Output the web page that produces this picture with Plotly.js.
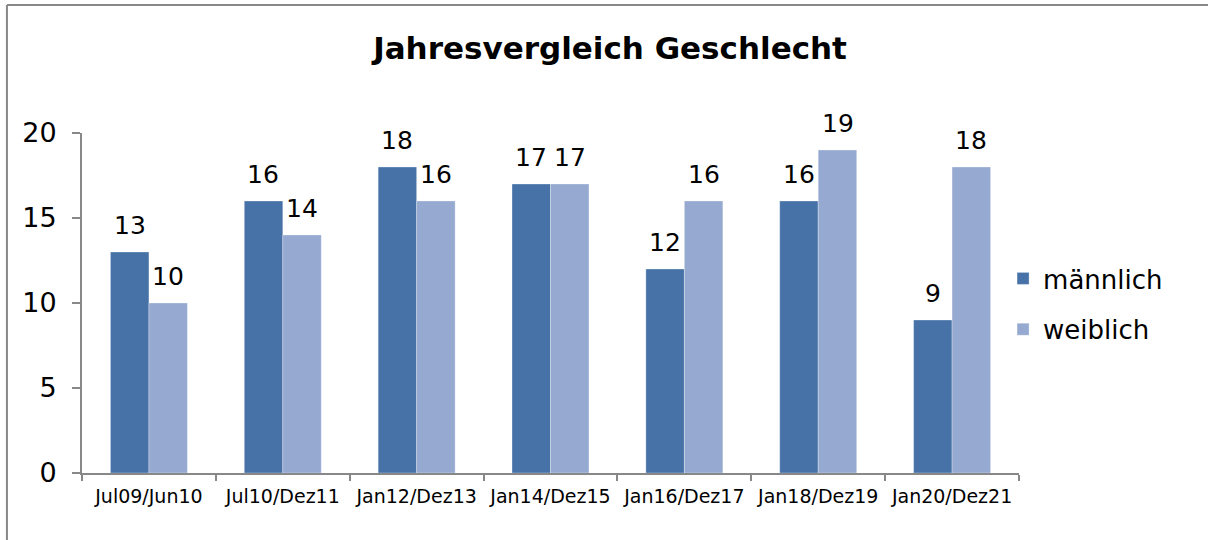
<!DOCTYPE html>
<html>
<head>
<meta charset="utf-8">
<script src="https://cdn.plot.ly/plotly-3.0.1.min.js"></script>
<style>html,body{margin:0;padding:0;background:#fff;}#chart{width:1208px;height:540px;}</style>
</head>
<body>
<div id="chart"></div>
<script>
const categories = ["Jul09/Jun10","Jul10/Dez11","Jan12/Dez13","Jan14/Dez15","Jan16/Dez17","Jan18/Dez19","Jan20/Dez21"];
const maennlich = [13,16,18,17,12,16,9];
const weiblich = [10,14,16,17,16,19,18];
const seriesNames = ["männlich","weiblich"];
const yTicks = [0,5,10,15,20];

const FONT = "DejaVu Sans, Verdana, sans-serif";
const colors = ["#4672A8","#95A9D1"];

const traces = [maennlich, weiblich].map((vals, i) => ({
  type: "bar",
  name: seriesNames[i],
  x: categories,
  y: vals,
  marker: {color: colors[i], line: {width: 0.5, color: "rgba(255,255,255,0.6)"}},
  legendgroup: "g" + i,
  hoverinfo: "skip"
}));

const annotations = [];
[maennlich, weiblich].forEach((vals, i) => {
  vals.forEach((v, j) => {
    annotations.push({
      x: categories[j], y: v, xref: "x", yref: "y",
      text: String(v), showarrow: false,
      xshift: i === 0 ? -19.3 : 19.3, yshift: 10,
      yanchor: "bottom", xanchor: "center",
      font: {family: FONT, size: 25, color: "#000"}
    });
  });
});

const layout = {
  width: 1208, height: 540,
  margin: {l: 82, r: 189, t: 133, b: 67},
  paper_bgcolor: "#fff", plot_bgcolor: "#fff",
  font: {family: FONT, color: "#000"},
  title: {text: "<b>Jahresvergleich Geschlecht</b>", font: {family: FONT, size: 31, color: "#000"},
          x: 0.505, xanchor: "center", y: 0.911, yanchor: "middle"},
  barmode: "group",
  bargap: 0.425, bargroupgap: 0,
  showlegend: true,
  legend: {x: 0.983, xanchor: "left", y: 0.497, yanchor: "middle",
           font: {family: FONT, size: 26, color: "#000"},
           traceorder: "grouped", tracegroupgap: 14, bgcolor: "rgba(0,0,0,0)"},
  xaxis: {type: "category", showline: true, linecolor: "#888", linewidth: 2,
          ticks: "outside", tickson: "boundaries", ticklen: 6, tickcolor: "#888", tickwidth: 2,
          showgrid: false, zeroline: false, ticklabelstandoff: 5, tickangle: 0,
          tickfont: {family: FONT, size: 19, color: "#000"}},
  yaxis: {range: [0, 20], tickvals: yTicks, ticktext: yTicks.map(String),
          showline: true, linecolor: "#888", linewidth: 2,
          ticks: "outside", ticklen: 8, tickcolor: "#888", tickwidth: 2,
          showgrid: false, zeroline: false, ticklabelstandoff: 10,
          tickfont: {family: FONT, size: 27, color: "#000"}},
  annotations: annotations,
  shapes: [
    {type: "line", xref: "paper", yref: "paper", x0: -0.0801, x1: 1.21, y0: 1.3765, y1: 1.3765,
     line: {color: "#888", width: 2}},
    {type: "line", xref: "paper", yref: "paper", x0: -0.0801, x1: -0.0801, y0: 1.3765, y1: -0.25,
     line: {color: "#888", width: 2}}
  ]
};

Plotly.newPlot("chart", traces, layout, {displayModeBar: false, staticPlot: true});
</script>
</body>
</html>
